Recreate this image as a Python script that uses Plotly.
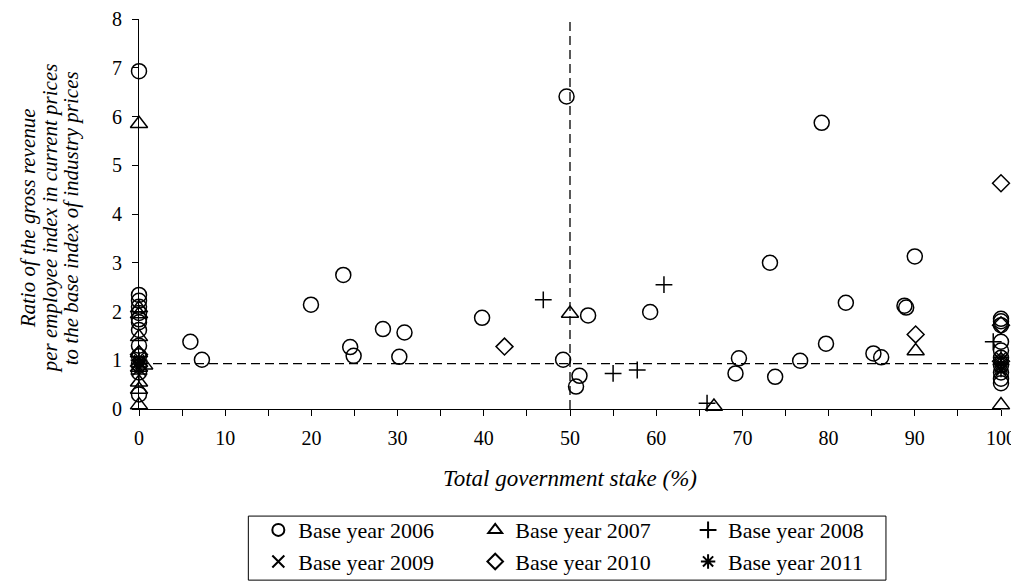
import plotly.graph_objects as go

# ---- data ----
x_2006 = [0, 0, 0, 0, 0, 0, 0, 0, 0, 0, 0, 0, 0,
          5.96, 7.3, 19.95, 23.7, 24.5, 24.9, 28.3, 30.2, 30.8, 39.8, 49.2, 49.6, 50.7, 51.1,
          52.1, 59.3, 69.2, 69.6, 73.2, 73.8, 76.7, 79.2, 79.7, 82.0, 85.2, 86.1, 88.8, 89.0, 90.0,
          100, 100, 100, 100, 100, 100, 100, 100, 100, 100]
y_2006 = [6.93, 2.34, 2.22, 2.1, 1.97, 1.84, 1.78, 1.62, 1.3, 1.08, 0.92, 0.75, 0.3,
          1.38, 1.01, 2.14, 2.75, 1.27, 1.09, 1.64, 1.07, 1.57, 1.87, 1.01, 6.41, 0.46, 0.68,
          1.92, 1.99, 0.73, 1.04, 3.0, 0.66, 0.99, 5.87, 1.34, 2.18, 1.14, 1.06, 2.12, 2.08, 3.13,
          1.85, 1.8, 1.72, 1.38, 1.2, 1.05, 0.9, 0.75, 0.62, 0.53]

x_2007 = [0, 0, 0, 0, 0, 0, 0, 0, 0, 0.6, 50.0, 66.7, 90.1, 100]
y_2007 = [5.85, 2.07, 1.95, 1.48, 1.15, 0.85, 0.55, 0.4, 0.08, 0.9, 1.96, 0.05, 1.19, 0.08]

x_2008 = [0, 0, 46.9, 55.0, 57.8, 60.9, 65.9, 99.1, 100]
y_2008 = [1.0, 0.72, 2.24, 0.73, 0.80, 2.55, 0.12, 1.38, 0.92]

x_2009 = [0, 0, 0, 100, 100, 100]
y_2009 = [1.05, 0.95, 0.82, 1.0, 0.88, 0.78]

x_2010 = [0, 0, 42.4, 90.1, 100, 100, 100]
y_2010 = [1.12, 0.88, 1.28, 1.53, 4.63, 1.72, 0.98]

x_2011 = [0, 0, 100, 100, 100]
y_2011 = [1.0, 0.86, 1.06, 0.92, 0.8]

series_names = ["Base year 2006", "Base year 2007", "Base year 2008",
                "Base year 2009", "Base year 2010", "Base year 2011"]

HLINE_Y = 0.93
VLINE_X = 50

x_ticks = [0, 10, 20, 30, 40, 50, 60, 70, 80, 90, 100]
y_ticks = [0, 1, 2, 3, 4, 5, 6, 7, 8]

y_title_lines = ["Ratio of the gross revenue",
                 "per employee index in current prices",
                 "to the base index of industry prices"]

FONT = "Liberation Serif"
# the page body adds an 8px offset, so the figure is kept inside the window
OFF = 8
W, H = 1019 - OFF, 582 - OFF
L, T = 138.6 - OFF, 19.3 - OFF
R = W - (1001.1 - OFF)
B = H - (409 - OFF)
plot_w = W - L - R
plot_h = H - T - B


def px_x(px):
    return (px - OFF - L) / plot_w


def px_y(py):
    return (H - B - (py - OFF)) / plot_h


series = [
    (x_2006, y_2006, "circle-open", 15),
    (x_2007, y_2007, "triangle-up-open", 15),
    (x_2008, y_2008, "cross-thin-open", 12),
    (x_2009, y_2009, "x-thin-open", 13),
    (x_2010, y_2010, "diamond-open", 13),
    (x_2011, y_2011, "asterisk-open", 12),
]
# legend column for each series (3 columns x 2 rows)
legend_ids = ["legend", "legend2", "legend3", "legend", "legend2", "legend3"]

fig = go.Figure()
for (xs, ys, sym, sz), name, lg in zip(series, series_names, legend_ids):
    fig.add_trace(go.Scatter(
        x=xs, y=ys, mode="markers", name=name, cliponaxis=False, legend=lg,
        marker=dict(symbol=sym, size=sz, color="black",
                    line=dict(color="black", width=1.5)),
    ))

dash_line = dict(color="black", width=1.3, dash="9px,5px")
fig.add_shape(type="line", xref="x", yref="y", x0=0, x1=100, y0=HLINE_Y, y1=HLINE_Y,
              line=dash_line, layer="below")
fig.add_shape(type="line", xref="x", yref="y", x0=VLINE_X, x1=VLINE_X, y0=0, y1=8,
              line=dash_line, layer="below")

# legend frame
fig.add_shape(type="rect", xref="paper", yref="paper",
              x0=px_x(248), x1=px_x(886), y0=px_y(580), y1=px_y(516),
              line=dict(color="black", width=1), fillcolor="rgba(0,0,0,0)")

title_x_px = [27, 49, 70]
for txt, px in zip(y_title_lines, title_x_px):
    fig.add_annotation(text="<i>" + txt + "</i>", xref="paper", yref="paper",
                       x=px_x(px), y=px_y(218), textangle=-90,
                       xanchor="center", yanchor="middle", showarrow=False,
                       font=dict(family=FONT, size=21, color="black"))

leg_font = dict(family=FONT, size=22, color="black")
leg_common = dict(orientation="v", yanchor="top", xanchor="left", y=px_y(509),
                  borderwidth=0, bgcolor="rgba(0,0,0,0)", itemsizing="constant",
                  font=leg_font)

tick_font = dict(family=FONT, size=20, color="black")
fig.update_layout(
    width=W, height=H,
    margin=dict(l=L, r=R, t=T, b=B, pad=0, autoexpand=False),
    paper_bgcolor="white", plot_bgcolor="white",
    font=dict(family=FONT, size=20, color="black"),
    showlegend=True,
    legend=dict(x=px_x(258), **leg_common),
    legend2=dict(x=px_x(475), **leg_common),
    legend3=dict(x=px_x(688), **leg_common),
    xaxis=dict(range=[0, 100], tickvals=x_ticks, ticks="outside", ticklen=6,
               tickcolor="black", showline=True, linecolor="black", linewidth=1,
               showgrid=False, zeroline=False, ticklabelstandoff=5, tickfont=tick_font,
               automargin=False, ticklabeloverflow="allow",
               minor=dict(dtick=5, tick0=0, ticks="outside", ticklen=6, tickcolor="black"),
               title=dict(text="<i>Total government stake (%)</i>", standoff=21,
                          font=dict(family=FONT, size=23))),
    yaxis=dict(range=[0, 8], tickvals=y_ticks, ticks="outside", ticklen=6,
               tickcolor="black", showline=True, linecolor="black", linewidth=1,
               showgrid=False, zeroline=False, ticklabelstandoff=6, tickfont=tick_font,
               automargin=False, ticklabeloverflow="allow"),
)

fig.write_html("out.html")
